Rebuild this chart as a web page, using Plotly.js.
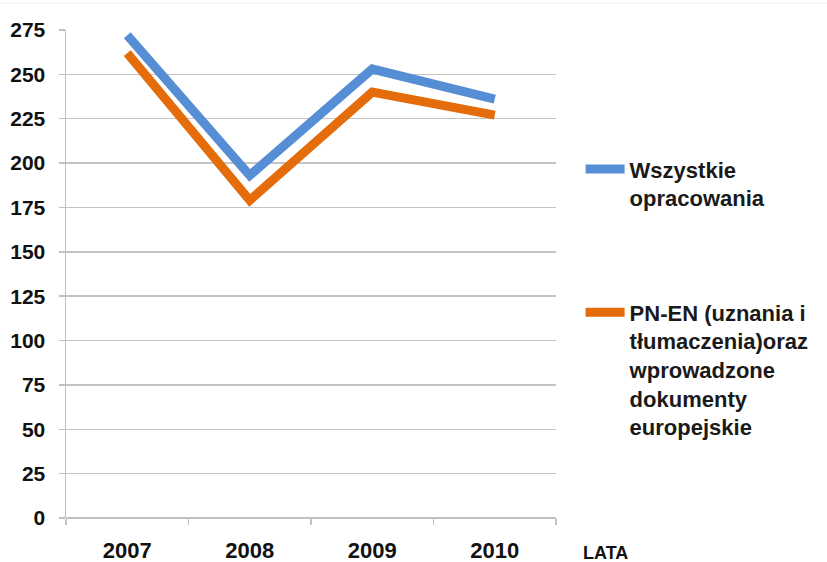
<!DOCTYPE html>
<html>
<head>
<meta charset="utf-8">
<script src="https://cdn.plot.ly/plotly-3.0.1.min.js"></script>
<style>html,body{margin:0;padding:0;background:#fff;}#chart{width:827px;height:562px;}</style>
</head>
<body>
<div id="chart"></div>
<script>
const years = ['2007', '2008', '2009', '2010'];
const allDocs = [272, 193, 253, 236];
const pnEn = [262, 179, 240, 227];
const yTicks = [0, 25, 50, 75, 100, 125, 150, 175, 200, 225, 250, 275];
const nameAll = 'Wszystkie<br>opracowania';
const namePn = 'PN-EN (uznania i<br>tłumaczenia)oraz<br>wprowadzone<br>dokumenty<br>europejskie';
const xTitle = 'LATA';

const font = 'Liberation Sans, Arial, sans-serif';

const traces = [
  {x: years, y: allDocs, name: nameAll, type: 'scatter', mode: 'lines',
   line: {color: '#558ED5', width: 9}, legend: 'legend'},
  {x: years, y: pnEn, name: namePn, type: 'scatter', mode: 'lines',
   line: {color: '#E46C0A', width: 9}, legend: 'legend2'}
];

const layout = {
  width: 827, height: 562,
  margin: {l: 66, r: 269, t: 30, b: 44},
  paper_bgcolor: '#fff', plot_bgcolor: '#fff',
  font: {family: font, color: '#111'},
  showlegend: true,
  xaxis: {
    type: 'category', tickson: 'boundaries', ticks: 'outside', ticklen: 6,
    tickcolor: '#bfbfbf', tickwidth: 1.5, showgrid: false, showline: false,
    zeroline: false, tickfont: {size: 22, family: font, color: '#111', weight: 'bold'},
    ticklabelstandoff: 17, range: [-0.5, 3.5], fixedrange: true
  },
  yaxis: {
    range: [0, 275], tickvals: yTicks, ticks: 'outside', ticklen: 6,
    tickcolor: '#bfbfbf', tickwidth: 1.5, showgrid: true, gridcolor: '#c4c4c4',
    gridwidth: 1.5, showline: true, linecolor: '#bfbfbf', linewidth: 1.5,
    zeroline: true, zerolinecolor: '#bfbfbf', zerolinewidth: 1.5,
    tickfont: {size: 21, family: font, color: '#111', weight: 'bold'}, ticklabelstandoff: 9
  },
  legend: {x: 1.0502, xanchor: 'left', y: 0.7576, yanchor: 'top', itemwidth: 39,
    font: {size: 22, family: font, color: '#1a1a1a', weight: 'bold'}, bgcolor: 'rgba(0,0,0,0)', valign: 'top'},
  legend2: {x: 1.0502, xanchor: 'left', y: 0.4642, yanchor: 'top', itemwidth: 39,
    font: {size: 22, family: font, color: '#1a1a1a', weight: 'bold'}, bgcolor: 'rgba(0,0,0,0)', valign: 'top'},
  annotations: [
    {text: '<b>' + xTitle + '</b>', xref: 'paper', yref: 'paper', x: 1.1, y: 0,
     yshift: -35, xanchor: 'center', yanchor: 'middle', showarrow: false,
     font: {size: 18, family: font, color: '#111'}}
  ],
  shapes: [
    {type: 'line', xref: 'paper', yref: 'paper', x0: -0.2, x1: 1.6, y0: 1.055, y1: 1.055,
     line: {color: '#f0f0f0', width: 1}}
  ]
};

Plotly.newPlot('chart', traces, layout, {displayModeBar: false, staticPlot: true});
</script>
</body>
</html>
